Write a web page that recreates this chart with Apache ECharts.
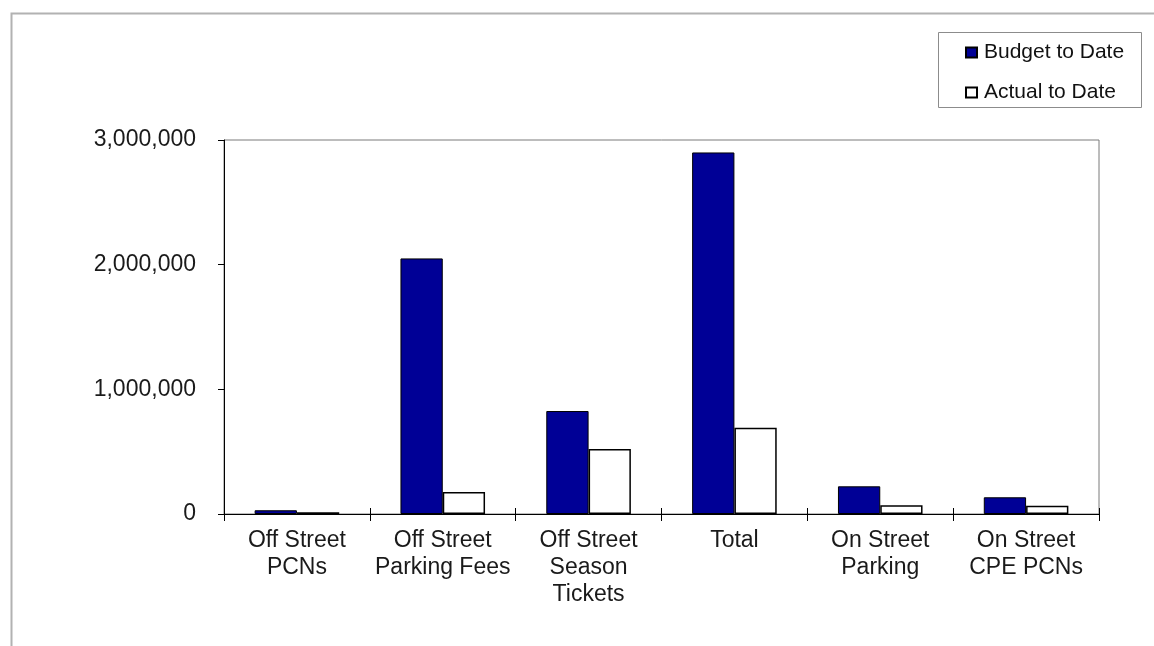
<!DOCTYPE html>
<html>
<head>
<meta charset="utf-8">
<script src="https://cdn.jsdelivr.net/npm/echarts@6/dist/echarts.min.js"></script>
<style>
  html, body { margin: 0; padding: 0; background: #fff; }
  #chart { width: 1154px; height: 646px; }
</style>
</head>
<body>
<div id="chart"></div>
<script>
// Parking income: budget vs actual to date
const categories = [
  'Off Street\nPCNs',
  'Off Street\nParking Fees',
  'Off Street\nSeason\nTickets',
  'Total',
  'On Street\nParking',
  'On Street\nCPE PCNs'
];
const budgetToDate = [30000, 2050000, 826000, 2900000, 222000, 134000];
const actualToDate = [14000, 176000, 521000, 692000, 70000, 66000];
const yTicks = { min: 0, max: 3000000, interval: 1000000 };

const FONT = '"Liberation Sans", Arial, sans-serif';

function withCommas(v) {
  return String(Math.round(v)).replace(/\B(?=(\d{3})+(?!\d))/g, ',');
}

const chart = echarts.init(document.getElementById('chart'), null, { renderer: 'canvas' });

chart.setOption({
  backgroundColor: '#ffffff',
  animation: false,
  graphic: [
    // outer chart frame
    { type: 'rect', left: 9, top: 11, z: -10, silent: true,
      shape: { x: 0, y: 0, width: 1200, height: 700 },
      style: { fill: 'none', stroke: '#b2b2b2', lineWidth: 2 } },
    // legend frame
    { type: 'rect', left: 938, top: 32, z: -5, silent: true,
      shape: { x: 0, y: 0, width: 203, height: 75 },
      style: { fill: '#fff', stroke: '#8c8c8c', lineWidth: 1 } }
  ],
  legend: {
    orient: 'vertical',
    left: 965,
    top: 42,
    padding: 0,
    itemGap: 19,
    itemWidth: 11,
    itemHeight: 10,
    icon: 'rect',
    textStyle: { fontFamily: FONT, fontSize: 21, color: '#111', lineHeight: 21, padding: [0, 0, 0, 2] },
    data: ['Budget to Date', 'Actual to Date']
  },
  grid: {
    left: 224, right: 55, top: 140, bottom: 132,
    show: true, borderColor: '#7a7a7a', borderWidth: 1, backgroundColor: 'transparent'
  },
  xAxis: [
    {
      type: 'category',
      data: categories,
      axisLine: { lineStyle: { color: '#000', width: 1 } },
      axisTick: { show: true, inside: false, length: 7, lineStyle: { color: '#000' } },
      axisLabel: {
        fontFamily: FONT, fontSize: 23, color: '#1a1a1a',
        lineHeight: 27, margin: 13, interval: 0
      }
    },
    {
      // upper half of the crossing tick marks
      type: 'category',
      data: categories,
      position: 'bottom',
      axisLine: { show: false },
      axisTick: { show: true, inside: true, length: 6, lineStyle: { color: '#000' } },
      axisLabel: { show: false }
    }
  ],
  yAxis: {
    type: 'value',
    min: yTicks.min,
    max: yTicks.max,
    interval: yTicks.interval,
    splitLine: { show: false },
    axisLine: { show: true, lineStyle: { color: '#000', width: 1 } },
    axisTick: { show: true, inside: false, length: 6, lineStyle: { color: '#000' } },
    axisLabel: {
      fontFamily: FONT, fontSize: 23, color: '#1a1a1a', margin: 28,
      formatter: withCommas
    }
  },
  series: [
    {
      name: 'Budget to Date',
      type: 'bar',
      data: budgetToDate,
      barGap: '0%',
      barCategoryGap: '42%',
      itemStyle: { color: '#000096', borderColor: '#000', borderWidth: 1 }
    },
    {
      name: 'Actual to Date',
      type: 'bar',
      data: actualToDate,
      barGap: '0%',
      barCategoryGap: '42%',
      itemStyle: { color: '#ffffff', borderColor: '#000', borderWidth: 1.5 }
    }
  ]
});
</script>
</body>
</html>
